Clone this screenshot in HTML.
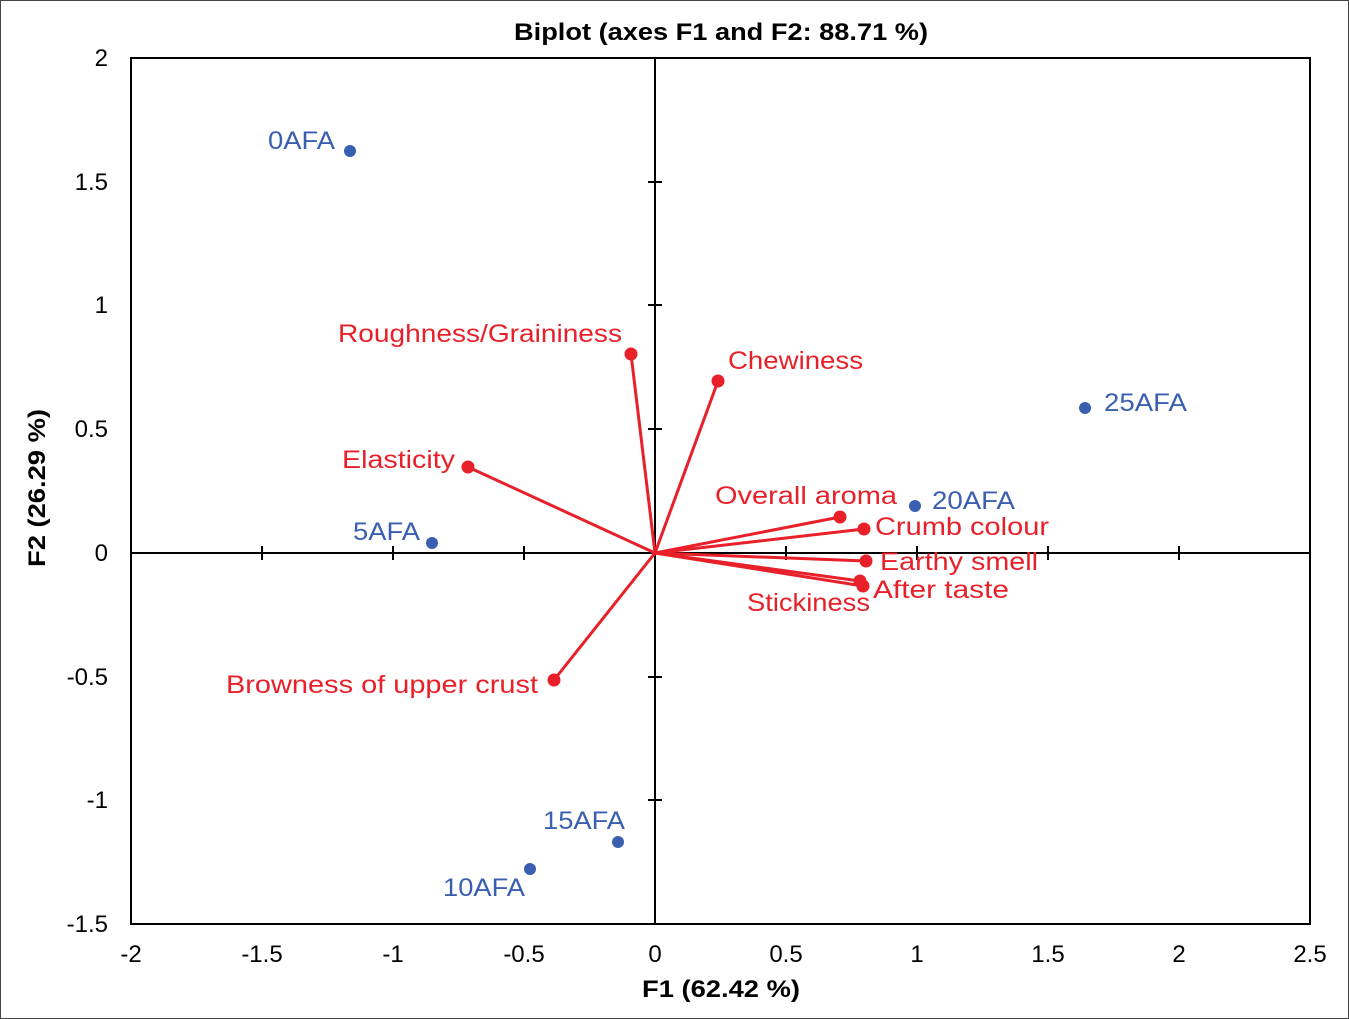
<!DOCTYPE html>
<html><head><style>
html,body{margin:0;padding:0;background:#fff}
svg{display:block}
text{font-family:"Liberation Sans","DejaVu Sans",sans-serif}
</style></head><body>
<svg width="1349" height="1019" viewBox="0 0 1349 1019">
<rect x="0.5" y="0.5" width="1348" height="1018" fill="#fff" stroke="#444" stroke-width="1"/>
<text x="514" y="40" font-size="24" font-weight="bold" textLength="414" lengthAdjust="spacingAndGlyphs">Biplot (axes F1 and F2: 88.71 %)</text>
<rect x="131" y="58" width="1179" height="866" fill="none" stroke="#000" stroke-width="2"/>
<line x1="131" y1="553" x2="1310" y2="553" stroke="#000" stroke-width="2"/>
<line x1="655" y1="58" x2="655" y2="924" stroke="#000" stroke-width="2"/>
<g stroke="#000" stroke-width="2">
<line x1="262" y1="546" x2="262" y2="560"/><line x1="393" y1="546" x2="393" y2="560"/><line x1="524" y1="546" x2="524" y2="560"/>
<line x1="786" y1="546" x2="786" y2="560"/><line x1="917" y1="546" x2="917" y2="560"/><line x1="1048" y1="546" x2="1048" y2="560"/><line x1="1179" y1="546" x2="1179" y2="560"/>
<line x1="648" y1="182" x2="662" y2="182"/><line x1="648" y1="305" x2="662" y2="305"/><line x1="648" y1="429" x2="662" y2="429"/>
<line x1="648" y1="677" x2="662" y2="677"/><line x1="648" y1="800" x2="662" y2="800"/>
</g>
<g font-size="24" text-anchor="middle">
<text x="131" y="962">-2</text><text x="262" y="962">-1.5</text><text x="393" y="962">-1</text><text x="524" y="962">-0.5</text><text x="655" y="962">0</text><text x="786" y="962">0.5</text><text x="917" y="962">1</text><text x="1048" y="962">1.5</text><text x="1179" y="962">2</text><text x="1310" y="962">2.5</text>
</g>
<g font-size="24" text-anchor="end">
<text x="108" y="66">2</text><text x="108" y="190">1.5</text><text x="108" y="313">1</text><text x="108" y="437">0.5</text><text x="108" y="561">0</text><text x="108" y="685">-0.5</text><text x="108" y="808">-1</text><text x="108" y="932">-1.5</text>
</g>
<text x="642" y="997" font-size="24" font-weight="bold" textLength="158" lengthAdjust="spacingAndGlyphs">F1 (62.42 %)</text>
<text transform="translate(45,567) rotate(-90)" font-size="24" font-weight="bold" textLength="158" lengthAdjust="spacingAndGlyphs">F2 (26.29 %)</text>
<g stroke="#e8202a" stroke-width="3" fill="#e8202a">
<line x1="655" y1="553" x2="631" y2="354"/><circle cx="631" cy="354" r="5"/>
<line x1="655" y1="553" x2="718" y2="381"/><circle cx="718" cy="381" r="5"/>
<line x1="655" y1="553" x2="468" y2="467"/><circle cx="468" cy="467" r="5"/>
<line x1="655" y1="553" x2="840" y2="517"/><circle cx="840" cy="517" r="5"/>
<line x1="655" y1="553" x2="864" y2="529"/><circle cx="864" cy="529" r="5"/>
<line x1="655" y1="553" x2="866" y2="561"/><circle cx="866" cy="561" r="5"/>
<line x1="655" y1="553" x2="860" y2="581"/><circle cx="860" cy="581" r="5"/>
<line x1="655" y1="553" x2="863" y2="586"/><circle cx="863" cy="586" r="5"/>
<line x1="655" y1="553" x2="554" y2="680"/><circle cx="554" cy="680" r="5"/>
</g>
<g fill="#e8202a" font-size="25" lengthAdjust="spacingAndGlyphs">
<text x="338" y="342" textLength="284" lengthAdjust="spacingAndGlyphs">Roughness/Graininess</text>
<text x="728" y="369" textLength="135" lengthAdjust="spacingAndGlyphs">Chewiness</text>
<text x="342" y="468" textLength="113" lengthAdjust="spacingAndGlyphs">Elasticity</text>
<text x="715" y="504" textLength="182" lengthAdjust="spacingAndGlyphs">Overall aroma</text>
<text x="875" y="535" textLength="174" lengthAdjust="spacingAndGlyphs">Crumb colour</text>
<text x="880" y="570" textLength="158" lengthAdjust="spacingAndGlyphs">Earthy smell</text>
<text x="873" y="598" textLength="136" lengthAdjust="spacingAndGlyphs">After taste</text>
<text x="747" y="611" textLength="123" lengthAdjust="spacingAndGlyphs">Stickiness</text>
<text x="226" y="693" textLength="312" lengthAdjust="spacingAndGlyphs">Browness of upper crust</text>
</g>
<g fill="#3a5fb0">
<circle cx="350" cy="151" r="6"/><circle cx="432" cy="543" r="6"/><circle cx="1085" cy="408" r="6"/>
<circle cx="915" cy="506" r="6"/><circle cx="618" cy="842" r="6"/><circle cx="530" cy="869" r="6"/>
</g>
<g fill="#3a5fb0" font-size="25">
<text x="268" y="149" textLength="67" lengthAdjust="spacingAndGlyphs">0AFA</text>
<text x="353" y="540" textLength="67" lengthAdjust="spacingAndGlyphs">5AFA</text>
<text x="1104" y="411" textLength="83" lengthAdjust="spacingAndGlyphs">25AFA</text>
<text x="932" y="509" textLength="83" lengthAdjust="spacingAndGlyphs">20AFA</text>
<text x="543" y="829" textLength="82" lengthAdjust="spacingAndGlyphs">15AFA</text>
<text x="443" y="896" textLength="82" lengthAdjust="spacingAndGlyphs">10AFA</text>
</g>
</svg>
</body></html>
